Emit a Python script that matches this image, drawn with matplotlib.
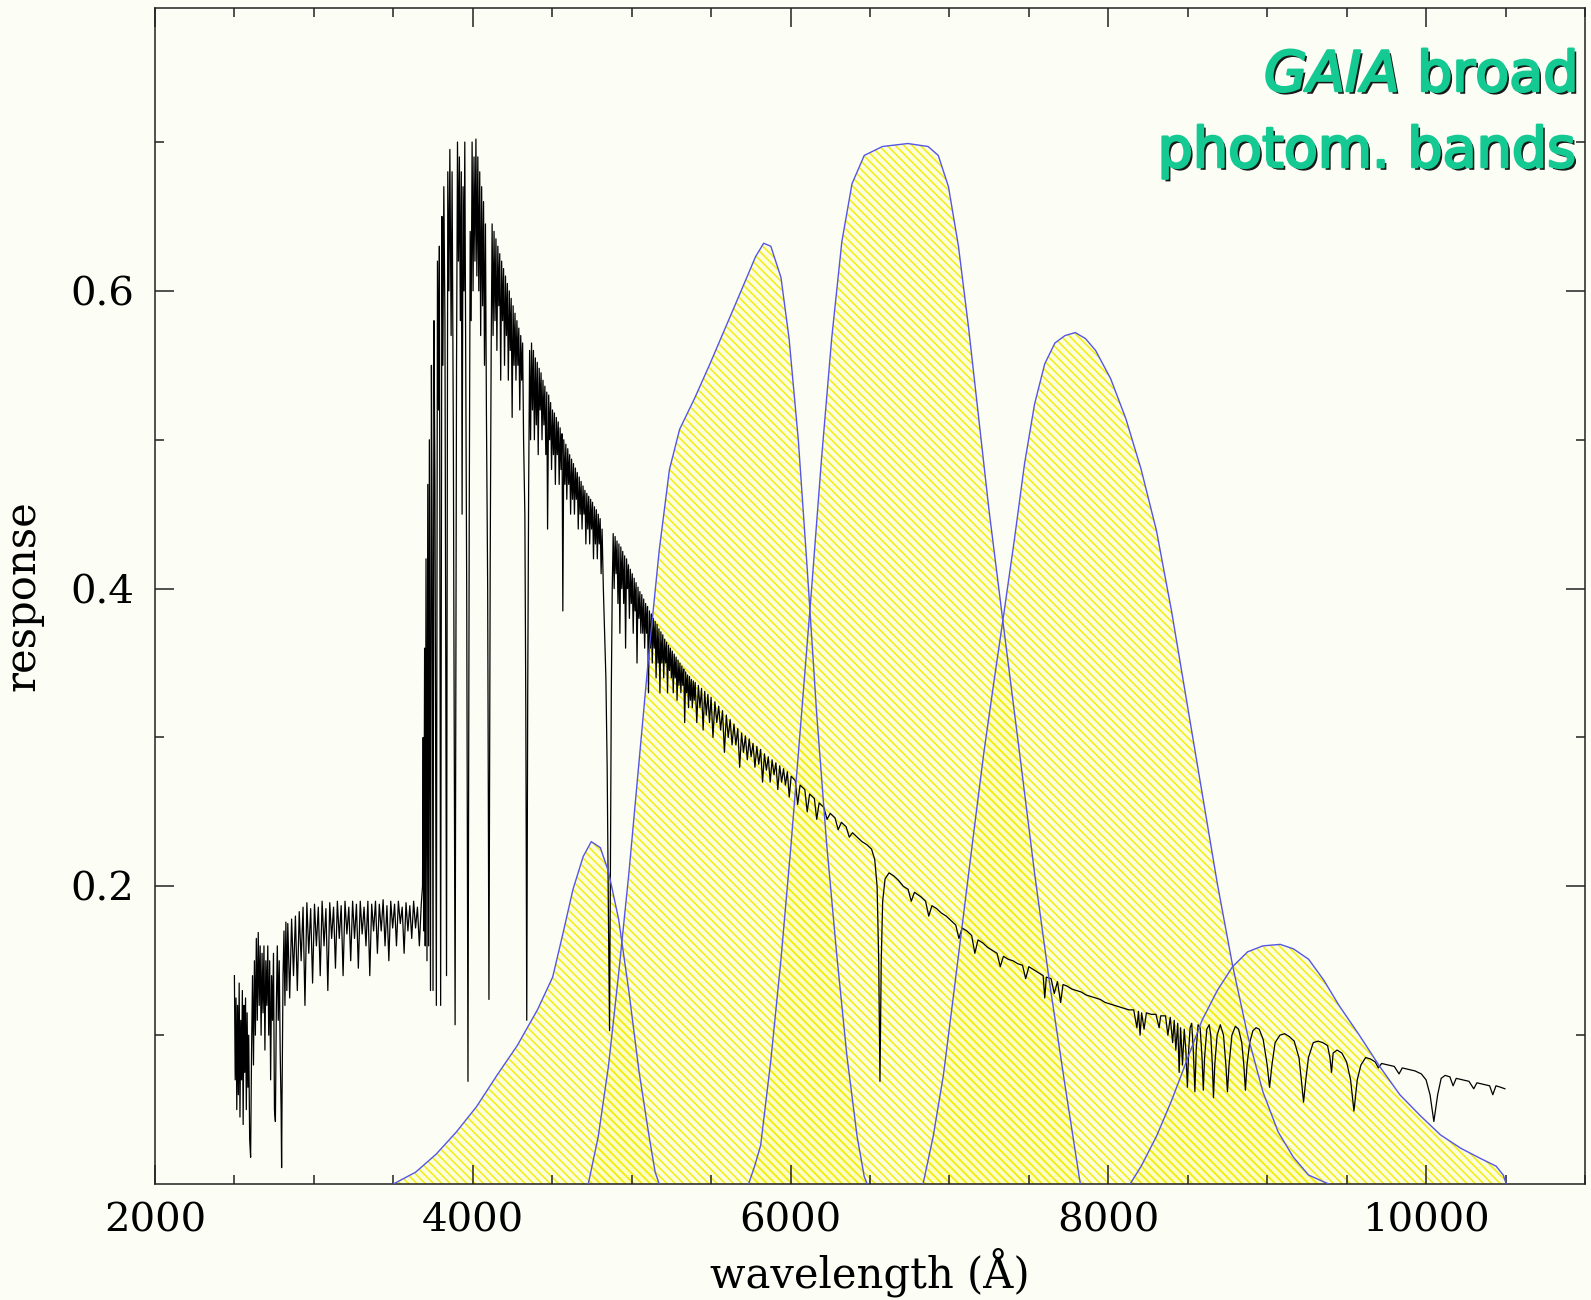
import matplotlib.pyplot as plt
import matplotlib.patheffects as pe
from matplotlib.ticker import MultipleLocator, FixedLocator

# stellar spectrum: (wavelength [A], response)
spec_uv = [
    (2500, .14), (2505, .07), (2510, .125), (2515, .05), (2520, .12), (2525, .06), (2530, .135), (2535, .045),
    (2540, .11), (2545, .07), (2550, .13), (2555, .04), (2560, .12), (2565, .075), (2570, .125), (2575, .05),
    (2580, .115), (2585, .065), (2590, .10), (2596, .03), (2602, .018), (2608, .09), (2614, .14), (2620, .08),
    (2626, .15), (2632, .10), (2638, .165), (2644, .11), (2650, .169), (2656, .12), (2662, .16), (2668, .10),
    (2674, .155), (2680, .115), (2686, .16), (2692, .09), (2698, .15), (2704, .12), (2710, .16), (2716, .10),
    (2722, .15), (2728, .07), (2734, .14), (2740, .11), (2746, .155), (2752, .05), (2758, .042), (2764, .12),
    (2770, .16), (2776, .11), (2782, .15), (2788, .09), (2794, .05), (2797, .011), (2800, .06), (2806, .14),
    (2812, .17), (2818, .12), (2824, .176), (2830, .13), (2836, .175), (2848, .125), (2860, .178), (2872, .14),
    (2884, .18), (2896, .13), (2908, .183), (2920, .15), (2932, .186), (2944, .12), (2956, .189), (2968, .155),
    (2980, .185), (2992, .135), (3004, .188), (3016, .16), (3028, .186), (3040, .14), (3052, .19), (3064, .16),
    (3076, .185), (3088, .13), (3100, .189), (3112, .165), (3124, .186), (3136, .145), (3148, .19), (3160, .165),
    (3172, .187), (3184, .14), (3196, .19), (3208, .168), (3220, .186), (3232, .15), (3244, .19), (3256, .165),
    (3268, .188), (3280, .145), (3292, .19), (3304, .168), (3316, .186), (3328, .16), (3340, .19), (3352, .14),
    (3364, .188), (3376, .17), (3388, .19), (3400, .155), (3412, .188), (3424, .17), (3436, .191), (3448, .16),
    (3460, .187), (3472, .15), (3484, .19), (3496, .172), (3508, .188), (3520, .16), (3532, .19), (3544, .175),
    (3556, .186), (3568, .155), (3580, .189), (3592, .17), (3604, .187), (3616, .165), (3628, .19), (3640, .172),
    (3652, .186), (3664, .16), (3676, .188),
]

spec_blue = [
    (3684, .20), (3688, .30), (3692, .17), (3697, .36), (3701, .16), (3706, .42), (3712, .15), (3717, .47),
    (3722, .16), (3727, .50), (3734, .13), (3740, .55), (3745, .42), (3750, .13), (3756, .58), (3762, .47),
    (3771, .12), (3778, .62), (3785, .52), (3790, .63), (3798, .12), (3806, .65), (3812, .55), (3818, .67),
    (3825, .58), (3835, .14), (3843, .68), (3850, .60), (3856, .695), (3864, .57), (3870, .68), (3878, .50),
    (3889, .107), (3898, .55), (3904, .70), (3910, .62), (3916, .69), (3922, .58), (3928, .68), (3933, .45),
    (3939, .67), (3945, .60), (3950, .70), (3956, .55), (3962, .40), (3970, .069), (3978, .45), (3984, .64),
    (3990, .58), (3996, .70), (4002, .60), (4008, .69), (4014, .62), (4020, .702), (4026, .61), (4032, .69),
    (4038, .60), (4044, .68), (4050, .57), (4056, .67), (4062, .59), (4068, .66), (4074, .55), (4080, .645),
    (4086, .52), (4094, .40), (4102, .124), (4110, .42), (4116, .56), (4122, .645), (4128, .57), (4134, .64),
    (4140, .58), (4146, .635), (4152, .56), (4158, .63), (4164, .59), (4170, .625), (4176, .54), (4182, .62),
    (4188, .58), (4194, .615), (4200, .55), (4206, .61), (4212, .57), (4218, .605), (4224, .54), (4230, .60),
    (4236, .56), (4242, .595), (4248, .515), (4254, .59), (4260, .55), (4266, .585), (4272, .54), (4278, .58),
    (4284, .55), (4290, .575), (4296, .52), (4302, .57), (4308, .54), (4314, .565), (4320, .50), (4328, .45),
    (4334, .32), (4340, .11), (4346, .33), (4352, .47), (4358, .56), (4364, .50), (4370, .565), (4376, .52),
    (4382, .56), (4388, .50), (4394, .555), (4400, .51), (4406, .552), (4412, .49), (4418, .548), (4424, .52),
    (4430, .545), (4436, .50), (4442, .54), (4448, .51), (4454, .536), (4460, .49), (4466, .532), (4471, .44),
    (4478, .53), (4484, .50), (4490, .525), (4496, .48), (4502, .52), (4508, .49), (4514, .518), (4520, .47),
    (4526, .515), (4532, .49), (4538, .512), (4544, .47), (4550, .508), (4556, .48), (4562, .504), (4567, .385),
    (4573, .50), (4580, .47), (4586, .497), (4592, .46), (4598, .494), (4604, .47), (4610, .49), (4616, .45),
    (4622, .487), (4628, .46), (4634, .484), (4640, .45), (4646, .481), (4652, .46), (4658, .478), (4664, .44),
    (4670, .475), (4676, .45), (4682, .472), (4688, .44), (4694, .469), (4700, .45), (4706, .466), (4712, .43),
    (4718, .464), (4724, .44), (4730, .462), (4736, .43), (4742, .46), (4748, .44), (4754, .458), (4760, .42),
    (4766, .455), (4772, .43), (4778, .453), (4784, .42), (4790, .45), (4796, .43), (4802, .447), (4808, .41),
    (4814, .44), (4822, .40), (4830, .37), (4838, .34), (4846, .28), (4854, .18), (4861, .103), (4866, .20),
    (4872, .33), (4878, .40),
]

spec_green = [
    (4884, .437), (4890, .40), (4896, .435), (4902, .41), (4908, .432), (4914, .39), (4920, .43), (4926, .37),
    (4932, .428), (4938, .40), (4944, .425), (4950, .39), (4956, .422), (4962, .36), (4968, .42), (4974, .40),
    (4980, .416), (4986, .38), (4992, .413), (4998, .39), (5004, .41), (5010, .37), (5016, .407), (5022, .385),
    (5028, .404), (5034, .35), (5040, .401), (5046, .38), (5052, .398), (5058, .37), (5064, .396), (5070, .37),
    (5076, .393), (5082, .36), (5088, .39), (5094, .37), (5100, .388), (5106, .33), (5112, .385), (5118, .36),
    (5124, .383), (5130, .35), (5136, .38), (5142, .36), (5148, .378), (5154, .34), (5160, .376), (5166, .35),
    (5172, .373), (5178, .33), (5184, .371), (5190, .35), (5196, .369), (5202, .34), (5208, .366), (5214, .35),
    (5220, .364), (5226, .33), (5232, .362), (5238, .345), (5244, .36), (5250, .34), (5256, .358), (5262, .33),
    (5268, .356), (5274, .34), (5280, .354), (5286, .325), (5292, .352), (5298, .335), (5304, .35), (5310, .33),
    (5316, .348), (5322, .335), (5328, .346), (5334, .31), (5340, .344), (5346, .33), (5352, .342), (5358, .32),
    (5364, .341), (5370, .325), (5376, .339), (5382, .32), (5388, .338), (5394, .325), (5400, .337), (5410, .31),
    (5420, .335), (5430, .32), (5440, .333), (5450, .305), (5460, .331), (5470, .315), (5480, .329), (5490, .31),
    (5500, .327), (5512, .30), (5524, .324), (5536, .31), (5548, .321), (5560, .305), (5572, .318), (5584, .29),
    (5596, .315), (5608, .30), (5620, .312), (5632, .295), (5644, .309), (5656, .295), (5668, .306), (5680, .28),
    (5692, .303), (5704, .29), (5716, .301), (5728, .285), (5740, .299), (5752, .287), (5764, .296), (5776, .28),
    (5788, .294), (5800, .282), (5812, .292), (5824, .27), (5836, .289), (5848, .278), (5860, .287), (5872, .27),
    (5884, .285), (5896, .275), (5908, .283), (5920, .265), (5932, .281), (5944, .27), (5956, .279), (5968, .268),
    (5980, .277), (5992, .26), (6004, .274),
]

spec_red = [
    (6030, .271), (6045, .255), (6060, .268), (6090, .265), (6105, .25), (6120, .262), (6150, .259), (6165, .245),
    (6180, .256), (6210, .253), (6230, .245), (6250, .249), (6280, .246), (6300, .238), (6320, .243), (6350, .24),
    (6370, .233), (6390, .236), (6420, .233), (6450, .230), (6480, .228), (6510, .225), (6530, .218), (6545, .20),
    (6555, .15), (6560, .10), (6563, .069), (6566, .10), (6571, .15), (6580, .19), (6595, .205), (6620, .209),
    (6650, .207), (6680, .204), (6710, .20), (6740, .198), (6760, .19), (6780, .196), (6820, .193), (6850, .19),
    (6870, .18), (6890, .187), (6920, .185), (6950, .182), (6980, .180), (7010, .177), (7040, .174), (7060, .165),
    (7080, .172), (7110, .170), (7140, .167), (7160, .155), (7180, .164), (7210, .162), (7240, .159), (7270, .157),
    (7300, .155), (7320, .146), (7340, .153), (7370, .151), (7400, .150), (7430, .148), (7460, .147), (7480, .138),
    (7500, .146), (7530, .144), (7560, .142), (7590, .140), (7600, .125), (7610, .139), (7640, .138), (7660, .128),
    (7680, .136), (7700, .122), (7715, .134), (7740, .133), (7770, .131), (7800, .130), (7830, .129), (7860, .127),
    (7890, .126), (7920, .125), (7950, .124), (7980, .122), (8010, .121), (8040, .120), (8070, .119), (8100, .118),
    (8130, .117), (8160, .117), (8180, .105), (8190, .116), (8200, .10), (8210, .115), (8225, .104), (8240, .115),
    (8270, .114), (8300, .114), (8320, .105), (8330, .113), (8360, .113), (8375, .10), (8390, .112), (8405, .095),
    (8415, .110), (8425, .09), (8437, .108), (8446, .075), (8455, .105), (8467, .08), (8478, .104), (8488, .09),
    (8498, .065), (8506, .09), (8515, .105), (8525, .108), (8535, .09), (8545, .062), (8553, .09), (8565, .107),
    (8578, .105), (8590, .085), (8598, .063), (8606, .085), (8620, .104), (8635, .107), (8645, .10), (8655, .08),
    (8662, .058), (8670, .08), (8685, .10), (8705, .107), (8725, .10), (8740, .08), (8750, .062), (8760, .08),
    (8778, .10), (8800, .106), (8820, .104), (8840, .095), (8853, .08), (8863, .063), (8873, .08), (8890, .095),
    (8910, .103), (8930, .105), (8950, .104), (8975, .097), (9000, .08), (9015, .065), (9030, .08), (9050, .095),
    (9080, .10), (9110, .101), (9140, .099), (9170, .096), (9200, .085), (9215, .07), (9229, .055), (9243, .07),
    (9260, .085), (9290, .095), (9320, .096), (9350, .095), (9380, .093), (9395, .085), (9405, .075), (9415, .088),
    (9440, .09), (9470, .088), (9500, .082), (9525, .07), (9546, .049), (9567, .07), (9590, .08), (9620, .085),
    (9650, .084), (9680, .082), (9700, .078), (9720, .081), (9760, .080), (9800, .079), (9830, .074), (9850, .078),
    (9890, .077), (9930, .076), (9970, .074), (10000, .070), (10025, .06), (10049, .042), (10073, .06), (10095, .071),
    (10120, .073), (10150, .072), (10170, .066), (10190, .071), (10230, .070), (10270, .069), (10300, .064),
    (10320, .068), (10360, .067), (10400, .066), (10420, .06), (10440, .066), (10470, .065), (10496, .064),
]

# GAIA broad band responses: (wavelength, response)
band1 = [(3500, 0), (3641, .008), (3769, .020), (3897, .035), (4024, .052), (4152, .073), (4280, .093),
         (4407, .117), (4503, .139), (4567, .168), (4631, .198), (4695, .220), (4746, .230), (4803, .226),
         (4854, .210), (4918, .178), (4982, .130), (5046, .076), (5110, .032), (5148, .008), (5174, 0)]
band2 = [(4727, 0), (4790, .032), (4854, .079), (4918, .141), (4982, .208), (5046, .283), (5110, .358),
         (5174, .426), (5238, .480), (5302, .507), (5397, .528), (5493, .551), (5589, .575), (5685, .599),
         (5780, .623), (5831, .632), (5876, .630), (5940, .609), (5991, .568), (6049, .500), (6106, .412),
         (6164, .317), (6227, .229), (6291, .154), (6355, .086), (6419, .032), (6464, .005), (6483, 0)]
band3 = [(5736, 0), (5774, .012), (5812, .026), (5876, .083), (5940, .151), (6004, .229), (6068, .314),
         (6132, .399), (6195, .487), (6259, .568), (6323, .633), (6387, .672), (6464, .691), (6579, .697),
         (6738, .699), (6866, .697), (6930, .691), (6994, .670), (7057, .630), (7121, .575), (7185, .514),
         (7249, .453), (7345, .371), (7441, .290), (7537, .208), (7632, .134), (7728, .066), (7792, .022),
         (7824, 0)]
band4 = [(6834, 0), (6898, .032), (6962, .073), (7026, .127), (7089, .181), (7153, .236), (7217, .290),
         (7281, .338), (7345, .385), (7409, .433), (7473, .484), (7536, .524), (7600, .551), (7664, .565),
         (7728, .570), (7792, .572), (7856, .568), (7920, .560), (8015, .541), (8111, .514), (8207, .480),
         (8303, .439), (8398, .385), (8494, .324), (8590, .263), (8686, .202), (8782, .147), (8877, .100),
         (8973, .062), (9069, .035), (9165, .018), (9261, .006), (9388, 0)]
band5 = [(8137, 0), (8207, .012), (8303, .032), (8398, .056), (8494, .083), (8590, .110), (8686, .130),
         (8782, .146), (8877, .156), (8973, .160), (9082, .161), (9165, .158), (9261, .151), (9356, .137),
         (9452, .120), (9580, .100), (9708, .079), (9835, .060), (9963, .046), (10091, .033), (10219, .024),
         (10346, .017), (10441, .012), (10486, .006), (10505, 0)]
bands = [band1, band2, band3, band4, band5]

x_ticks = [2000, 4000, 6000, 8000, 10000]
y_ticks = [0.2, 0.4, 0.6]

bg = '#fcfef6'
green = '#14c992'
plt.rcParams['font.family'] = 'DejaVu Serif'
plt.rcParams['hatch.linewidth'] = 1.1

fig = plt.figure(figsize=(15.91, 13), dpi=100, facecolor=bg)
ax = fig.add_axes([0.0974, 0.0892, 0.8988, 0.9046])
ax.set_facecolor(bg)

# hatched band responses
for b in bands:
    w, r = zip(*b)
    ax.fill_between(w, r, 0, facecolor=(1, 1, 0, 0.10), edgecolor='#f2ee10',
                    hatch='\\\\\\\\', linewidth=0, zorder=1)

spec = spec_uv + spec_blue + spec_green + spec_red
sw, sf = zip(*spec)
ax.plot(sw, sf, color='black', lw=0.9, zorder=2)

for b in bands:
    w, r = zip(*b)
    ax.plot(w, r, color='#5656e6', lw=1.0, zorder=3)

ax.set_xlim(2000, 11000)
ax.set_ylim(0, 0.79)
ax.xaxis.set_major_locator(FixedLocator(x_ticks))
ax.xaxis.set_minor_locator(MultipleLocator(500))
ax.yaxis.set_major_locator(FixedLocator(y_ticks))
ax.yaxis.set_minor_locator(FixedLocator([0.1, 0.3, 0.5, 0.7]))
ax.set_yticklabels(['0.2', '0.4', '0.6'])
ax.tick_params(which='both', direction='in', top=True, right=True, width=1.1, color='#222222')
ax.tick_params(which='major', length=13.5, labelsize=29)
ax.tick_params(which='minor', length=6.5)
ax.tick_params(axis='x', pad=13)
ax.tick_params(axis='y', pad=15)
for s in ax.spines.values():
    s.set_linewidth(1.1)
    s.set_color('#222222')

ax.set_xlabel('wavelength (Å)', fontsize=30)
ax.set_ylabel('response', fontsize=30)
ax.xaxis.set_label_coords(0.5, -0.054)
ax.yaxis.set_label_coords(-0.078, 0.5)

# title in the upper right corner with a drop shadow
fx = [pe.withSimplePatchShadow(offset=(2, -2), shadow_rgbFace='black', alpha=0.9),
      pe.Stroke(linewidth=1.8, foreground=green), pe.Normal()]
plt.rcParams['mathtext.fontset'] = 'custom'
plt.rcParams['mathtext.it'] = 'DejaVu Sans:italic'
fig.text(0.990, 0.930, r'$\mathit{GAIA}$ broad', ha='right', va='baseline', fontsize=40,
         family='DejaVu Sans', color=green, path_effects=fx)
fig.text(0.990, 0.8715, 'photom. bands', ha='right', va='baseline', fontsize=40,
         family='DejaVu Sans', color=green, path_effects=fx)

fig.savefig('out.png', dpi=100, facecolor=bg)
